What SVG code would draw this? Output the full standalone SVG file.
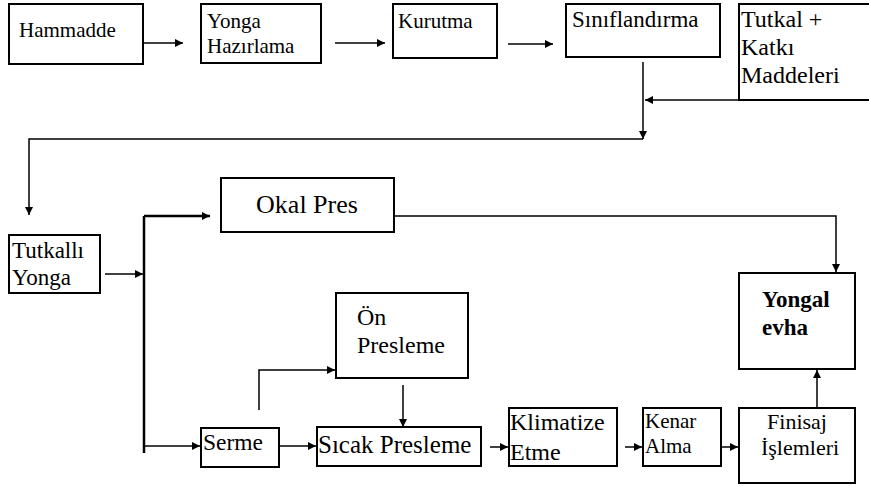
<svg xmlns="http://www.w3.org/2000/svg" width="869" height="486" viewBox="0 0 869 486">
<style>
.box{fill:#fff;stroke:#000;stroke-width:2}
.ln{fill:none;stroke:#000;stroke-width:1.5}
.bus{fill:none;stroke:#000;stroke-width:2.5}
text{font-family:"Liberation Serif","Times New Roman",serif;fill:#000}
</style>
<defs>
<marker id="ah" viewBox="0 0 10 10" refX="10" refY="5" markerWidth="10" markerHeight="8" markerUnits="userSpaceOnUse" orient="auto">
<path d="M0,0 L10,5 L0,10 z" fill="#000"/>
</marker>
</defs>
<rect width="869" height="486" fill="#fff"/>
<g id="connectors">
<line class="ln" x1="143" y1="43" x2="183" y2="43" marker-end="url(#ah)"/>
<line class="ln" x1="335" y1="43" x2="385" y2="43" marker-end="url(#ah)"/>
<line class="ln" x1="508" y1="44" x2="553" y2="44" marker-end="url(#ah)"/>
<line class="ln" x1="643" y1="62" x2="643" y2="139" marker-end="url(#ah)"/>
<line class="ln" x1="739" y1="100" x2="645" y2="100" marker-end="url(#ah)"/>
<polyline class="ln" points="643,139 29,139 29,215" marker-end="url(#ah)"/>
<line class="ln" x1="105" y1="274" x2="143" y2="274" marker-end="url(#ah)"/>
<line class="bus" x1="144" y1="216" x2="144" y2="453"/>
<line class="bus" x1="144" y1="216" x2="210" y2="216" marker-end="url(#ah)"/>
<line class="ln" x1="144" y1="446" x2="200" y2="446" marker-end="url(#ah)"/>
<polyline class="ln" points="394,216 836,216 836,272" marker-end="url(#ah)"/>
<polyline class="ln" points="259,410 259,370 335,370" marker-end="url(#ah)"/>
<line class="ln" x1="403" y1="385" x2="403" y2="427" marker-end="url(#ah)"/>
<line class="ln" x1="280" y1="446" x2="316" y2="446" marker-end="url(#ah)"/>
<line class="ln" x1="490" y1="447" x2="508" y2="447" marker-end="url(#ah)"/>
<line class="ln" x1="625" y1="447" x2="642" y2="447" marker-end="url(#ah)"/>
<line class="ln" x1="721" y1="447" x2="738" y2="447" marker-end="url(#ah)"/>
<line class="ln" x1="817" y1="408" x2="817" y2="370" marker-end="url(#ah)"/>
</g>
<g id="hammadde"><rect class="box" x="9" y="4" width="134" height="60"/><text x="19" y="37" font-size="21">Hammadde</text></g>
<g id="yonga-hazirlama"><rect class="box" x="201" y="4" width="120" height="59"/><text x="207" y="28" font-size="21">Yonga</text><text x="207" y="53" font-size="21">Hazırlama</text></g>
<g id="kurutma"><rect class="box" x="393" y="4" width="104" height="54"/><text x="398" y="28" font-size="21">Kurutma</text></g>
<g id="siniflandirma"><rect class="box" x="566" y="4" width="154" height="53"/><text x="572" y="27" font-size="23">Sınıflandırma</text></g>
<g id="tutkal-katki"><rect class="box" x="739" y="4" width="135" height="96"/><text x="741" y="27" font-size="24">Tutkal +</text><text x="741" y="55" font-size="24">Katkı</text><text x="741" y="83" font-size="24">Maddeleri</text></g>
<g id="tutkalli-yonga"><rect class="box" x="9" y="235" width="91" height="58"/><text x="12" y="258" font-size="23">Tutkallı</text><text x="12" y="285" font-size="23">Yonga</text></g>
<g id="okal-pres"><rect class="box" x="221" y="178" width="173" height="54"/><text x="307" y="213" font-size="26" text-anchor="middle">Okal Pres</text></g>
<g id="on-presleme"><rect class="box" x="336" y="293" width="132" height="85"/><text x="357" y="325" font-size="24">Ön</text><text x="357" y="353" font-size="24">Presleme</text></g>
<g id="serme"><rect class="box" x="201" y="428" width="78" height="39"/><text x="203" y="450" font-size="23.5">Serme</text></g>
<g id="sicak-presleme"><rect class="box" x="317" y="427" width="164" height="39"/><text x="318" y="453" font-size="25">Sıcak Presleme</text></g>
<g id="klimatize"><rect class="box" x="509" y="408" width="108" height="58"/><text x="510" y="430" font-size="24">Klimatize</text><text x="510" y="460" font-size="24">Etme</text></g>
<g id="kenar-alma"><rect class="box" x="643" y="408" width="78" height="58"/><text x="645" y="428" font-size="21">Kenar</text><text x="645" y="453" font-size="21">Alma</text></g>
<g id="finisaj"><rect class="box" x="739" y="408" width="116" height="75"/><text x="797" y="429" font-size="22" text-anchor="middle">Finisaj</text><text x="800" y="455" font-size="22" text-anchor="middle">İşlemleri</text></g>
<g id="yongalevha"><rect class="box" x="739" y="273" width="116" height="96"/><text x="762" y="307" font-size="23" font-weight="bold">Yongal</text><text x="762" y="335" font-size="23" font-weight="bold">evha</text></g>
</svg>
